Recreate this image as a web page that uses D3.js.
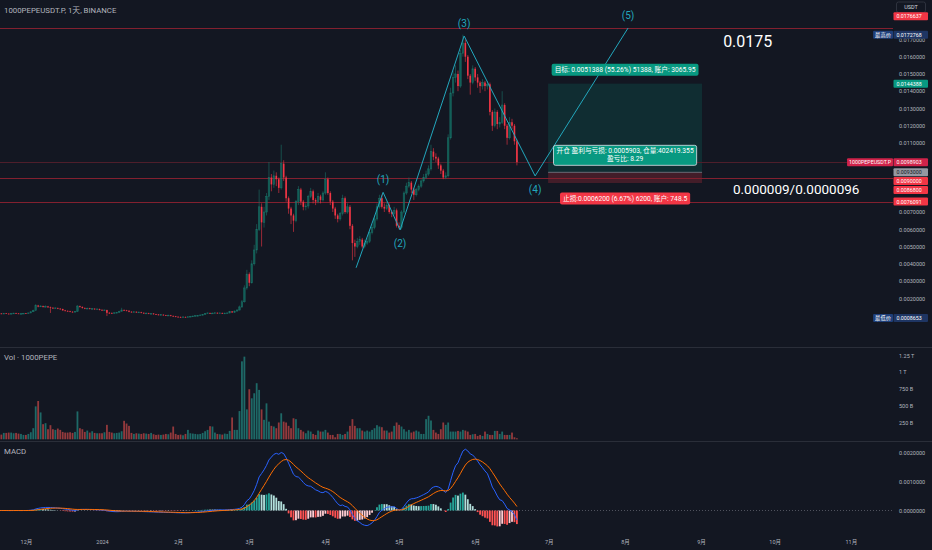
<!DOCTYPE html>
<html>
<head>
<meta charset="utf-8">
<script src="https://cdn.jsdelivr.net/npm/d3@7"></script>
<style>
html, body { margin: 0; background: #131722; }
svg { display: block; }
text { font-family: Roboto, "Noto Sans CJK SC", sans-serif; }
</style>
</head>
<body>
<svg id="chart" width="932" height="550"></svg>
<script>
// daily bars of 1000PEPEUSDT.P, prices in units of 0.001 USDT
const firstDay = "2023-11-20";
const firstOpen = 1.11;
const closes = [
  1.12,1.10,1.13,1.11,1.09,1.12,1.14,1.12,1.10,1.11,
  1.13,1.12,1.15,1.22,1.30,1.58,1.52,1.55,1.50,1.53,
  1.48,1.45,1.42,1.44,1.40,1.38,1.30,1.27,1.25,1.22,
  1.20,1.24,1.55,1.50,1.44,1.40,1.42,1.38,1.40,1.36,
  1.38,1.33,1.30,1.32,1.16,1.15,1.13,1.16,1.18,1.25,
  1.32,1.30,1.28,1.22,1.20,1.22,1.18,1.20,1.16,1.12,
  1.14,1.10,1.12,1.08,1.06,1.04,1.05,1.02,1.00,1.02,
  0.98,0.96,0.93,0.92,0.90,0.92,0.91,0.93,0.95,0.97,
  0.99,1.00,1.03,1.06,1.12,1.15,1.12,1.14,1.16,1.13,
  1.15,1.12,1.14,1.15,1.24,1.18,1.26,1.32,1.50,1.80,
  2.60,3.40,2.90,4.00,4.80,6.00,7.30,6.40,7.00,7.90,
  9.00,8.60,9.10,8.90,8.40,9.80,9.00,7.80,7.20,6.80,
  6.50,7.60,8.30,7.60,7.30,7.35,7.90,8.20,7.70,7.60,
  7.90,7.70,8.10,8.90,8.10,7.60,7.20,6.80,6.60,6.90,
  7.80,7.00,7.30,6.20,5.20,5.00,5.30,5.40,5.00,5.20,
  5.30,5.80,6.10,6.60,7.30,7.80,7.30,7.20,7.40,7.00,
  6.90,7.10,6.20,6.10,7.00,8.10,8.50,8.70,8.30,8.00,
  8.30,8.50,8.80,9.00,9.20,9.50,10.50,10.20,10.10,9.70,
  9.40,9.00,9.10,11.30,13.90,14.80,15.00,14.30,16.20,16.80,
  16.00,14.90,14.50,15.30,14.80,14.50,14.30,14.50,14.30,14.40,
  12.80,12.00,12.80,12.10,12.20,13.20,12.00,11.30,12.20,12.00,
  11.10,9.8903
];
const highs = [
  1.15,1.14,1.15,1.14,1.13,1.14,1.16,1.16,1.14,1.13,
  1.15,1.15,1.18,1.25,1.34,1.66,1.62,1.60,1.58,1.59,
  1.56,1.52,1.49,1.48,1.46,1.43,1.40,1.33,1.30,1.28,
  1.25,1.27,1.60,1.58,1.53,1.47,1.46,1.45,1.43,1.42,
  1.41,1.40,1.36,1.35,1.34,1.20,1.18,1.19,1.21,1.28,
  1.45,1.36,1.33,1.30,1.25,1.25,1.24,1.23,1.22,1.18,
  1.17,1.16,1.14,1.14,1.10,1.09,1.08,1.07,1.04,1.05,
  1.04,1.00,0.98,0.96,0.94,0.95,0.94,0.96,0.98,1.00,
  1.02,1.03,1.06,1.09,1.15,1.18,1.17,1.17,1.19,1.18,
  1.18,1.17,1.17,1.18,1.27,1.26,1.29,1.36,1.58,1.90,
  2.75,3.65,3.50,4.20,5.10,6.30,8.30,7.50,7.30,8.10,
  9.90,9.20,9.40,9.30,9.00,10.90,10.00,9.10,7.90,7.30,
  6.90,7.70,8.50,8.40,7.70,7.50,8.00,8.40,8.30,7.80,
  8.10,8.00,8.20,9.30,9.00,8.20,7.70,7.30,6.90,7.00,
  8.00,7.90,7.50,7.40,6.30,5.40,5.50,5.60,5.50,5.40,
  5.50,5.90,6.30,6.80,7.50,8.00,8.00,7.50,7.60,7.50,
  7.10,7.30,7.20,6.40,7.10,8.20,8.70,9.00,8.80,8.40,
  8.40,8.60,8.90,9.20,9.40,9.70,10.90,10.70,10.40,10.20,
  9.80,9.50,9.30,11.50,14.20,15.20,15.50,15.20,16.40,17.2768,
  17.00,16.10,15.00,15.50,15.40,15.00,14.60,14.70,14.60,14.60,
  14.50,12.90,13.00,12.90,12.50,14.00,13.30,12.10,12.50,12.40,
  12.10,11.20
];
const lows = [
  1.09,1.08,1.09,1.10,1.07,1.08,1.11,1.10,1.09,1.08,
  1.10,1.10,1.11,1.14,1.20,1.28,1.48,1.49,1.46,1.47,
  1.44,1.15,1.38,1.39,1.37,1.34,1.28,1.24,1.22,1.19,
  1.17,1.18,1.22,1.46,1.40,1.37,1.38,1.35,1.35,1.33,
  1.33,1.30,1.27,1.27,0.97,1.10,1.10,1.11,1.14,1.16,
  1.23,1.27,1.25,1.19,1.17,1.18,1.15,1.16,1.13,1.09,
  1.10,1.08,1.08,1.05,1.03,1.01,1.01,0.99,0.97,0.98,
  0.95,0.93,0.90,0.89,0.8653,0.88,0.88,0.89,0.91,0.93,
  0.95,0.97,0.98,1.01,1.04,1.10,1.09,1.10,1.12,1.10,
  1.11,1.09,1.10,1.11,1.13,1.16,1.16,1.24,1.30,1.45,
  1.75,2.50,2.70,2.85,3.90,4.60,5.90,5.00,6.10,6.80,
  7.70,8.20,8.40,8.50,8.10,8.30,8.80,7.60,6.90,6.30,
  5.85,6.40,7.40,7.40,7.10,7.10,7.20,7.80,7.50,7.40,
  7.50,7.50,7.60,8.00,8.00,7.40,7.00,6.60,6.40,6.50,
  6.80,6.90,6.90,6.00,4.20,4.40,4.90,5.10,4.90,4.90,
  5.10,5.20,5.70,6.00,6.50,7.20,7.20,7.00,7.10,6.90,
  6.70,6.80,6.10,6.00,6.00,6.90,8.00,8.40,8.10,7.70,
  7.90,8.20,8.40,8.70,8.90,9.10,9.40,10.00,9.90,9.50,
  9.20,8.90,8.90,9.00,11.20,13.70,14.50,14.00,14.20,16.00,
  15.70,14.70,13.80,14.40,14.60,14.20,13.90,14.10,14.00,14.10,
  12.60,11.70,11.90,11.80,11.90,12.10,11.80,10.90,11.20,11.80,
  10.90,9.70
];
// volume in billions
const volumes = [
  190,70,95,95,100,100,90,95,85,80,
  65,65,80,105,165,490,570,400,225,240,
  150,210,150,140,160,140,110,100,100,105,
  95,110,415,165,150,110,130,100,120,95,
  90,90,90,105,215,110,100,90,95,100,
  120,275,235,200,95,80,90,85,80,90,
  85,80,95,75,65,70,65,70,80,75,
  100,190,80,65,70,60,80,140,90,85,
  80,75,80,95,120,140,195,190,100,80,
  75,70,85,80,125,325,140,140,420,1160,
  1230,445,745,610,685,835,735,445,290,535,
  263,200,190,165,250,387,263,250,200,165,
  313,300,165,140,115,90,130,115,80,65,
  130,115,115,140,100,65,65,30,80,80,
  65,80,115,200,300,200,165,165,130,115,
  130,115,140,165,210,190,180,130,130,100,
  115,200,250,215,190,150,115,140,100,115,
  130,115,80,80,300,350,280,140,100,80,
  150,250,215,250,115,115,115,125,115,140,
  130,115,65,75,80,50,65,50,115,80,
  65,65,125,125,80,115,65,65,65,100,
  30,15
];

const monthTicks = ["2023-12-01","2024-01-01","2024-02-01","2024-03-01","2024-04-01","2024-05-01",
  "2024-06-01","2024-07-01","2024-08-01","2024-09-01","2024-10-01","2024-11-01"];
// 0.008 - 0.010 sit under the coloured price labels and are not shown
const priceTicks = [2,3,4,5,6,7,11,12,13,14,15,16,17];
const volTicks = [250,500,750,1000,1250];
const macdTicks = [0, 0.001, 0.002];

// Elliott wave drawing: [time, price, label]
const wavePoints = [
  ["2024-04-13T12:00", 3.77, ""],
  ["2024-04-24T12:00", 8.14, "(1)"],
  ["2024-05-01T10:00", 5.96, "(2)"],
  ["2024-05-27T12:00", 17.20, "(3)"],
  ["2024-06-25T10:00", 9.09, "(4)"],
  ["2024-08-02T07:00", 17.6637, "(5)"]
];
// long position tool
const posStart = "2024-06-30T17:00";
const posEnd = "2024-09-01T10:00";
const posEntry = 9.3;
const posTarget = 14.4388;
const posStop = 8.68;
const targetText = "目标: 0.0051388 (55.26%) 51388, 账户: 3065.95";
const entryText = ["开仓 盈利与亏损: 0.0005903, 仓量:402419.355", "盈亏比: 8.29"];
const stopText = "止损:0.0006200 (6.67%) 6200, 账户: 748.5";
// horizontal lines
const hLines = [17.6637, 9.0, 7.6091];
const lastPrice = 9.8903;
const highPrice = 17.2768;
const lowPrice = 0.8653;
// free text notes: [time, price, text, size]
const notes = [
  ["2024-09-10T00:00", 16.56, "0.0175", 16],
  ["2024-09-14T00:00", 8.04, "0.000009/0.0000096", 13.5]
];

const W = 932, plotR = 893;
const svg = d3.select("#chart");
const day0 = d3.utcParse("%Y-%m-%d")(firstDay);
const parseT = s => new Date(s.length > 10 ? s + "Z" : s + "T00:00Z");

const bars = closes.map((c, i) => {
  const o = i === 0 ? firstOpen : closes[i - 1];
  return { date: d3.utcDay.offset(day0, i), o, c, h: highs[i], l: lows[i], v: volumes[i], up: c >= o };
});

const x = d3.scaleUtc().domain([new Date(Date.UTC(2024, 0, 1)), new Date(Date.UTC(2024, 10, 1))]).range([102, 850.8]);
const y = d3.scaleLinear().domain([2, 16]).range([298.3, 56.7]);
const yv = d3.scaleLinear().domain([0, 1250]).range([439.3, 355.3]);
const ym = d3.scaleLinear().domain([0, 0.002]).range([510.5, 453.1]);

const defs = svg.append("defs");
defs.append("clipPath").attr("id", "clipMain").append("rect").attr("x", 0).attr("y", 0).attr("width", plotR).attr("height", 346);

const upFill = "rgba(8,153,129,0.3)", upLine = "#1b7268", dn = "#f23645";
const lineRed = "#82202f";

// pane separators
svg.selectAll("line.sep").data([347.5, 441.5]).enter().append("line")
  .attr("x1", 0).attr("x2", W).attr("y1", d => d).attr("y2", d => d)
  .attr("stroke", "#2a2e39").attr("stroke-width", 1);

const main = svg.append("g").attr("clip-path", "url(#clipMain)");

// position tool zones
const px0 = x(parseT(posStart)), px1 = x(parseT(posEnd));
main.append("rect").attr("x", px0).attr("width", px1 - px0)
  .attr("y", y(posTarget)).attr("height", y(posEntry) - y(posTarget))
  .attr("fill", "rgba(8,153,129,0.17)");
main.append("rect").attr("x", px0).attr("width", px1 - px0)
  .attr("y", y(posEntry)).attr("height", y(posStop) - y(posEntry))
  .attr("fill", "rgba(242,54,69,0.22)");
main.append("line").attr("x1", px0).attr("x2", px1).attr("y1", y(posEntry)).attr("y2", y(posEntry))
  .attr("stroke", "#787b86").attr("stroke-width", 0.8);

// horizontal lines
const snap = v => Math.round(v) + 0.5;
main.selectAll("line.h").data(hLines).enter().append("line")
  .attr("x1", 0).attr("x2", plotR).attr("y1", d => snap(y(d))).attr("y2", d => snap(y(d)))
  .attr("stroke", lineRed).attr("stroke-width", 1);
main.append("line").attr("x1", 0).attr("x2", plotR).attr("y1", snap(y(lastPrice))).attr("y2", snap(y(lastPrice)))
  .attr("stroke", "#4e1e2b").attr("stroke-width", 1);

// candles
const bw = 1.6;
const cg = main.append("g");
cg.selectAll("line.wick").data(bars).enter().append("line")
  .attr("x1", d => x(d.date)).attr("x2", d => x(d.date))
  .attr("y1", d => y(d.h)).attr("y2", d => y(d.l))
  .attr("stroke", d => d.up ? upLine : dn).attr("stroke-width", 0.6);
cg.selectAll("rect.body").data(bars).enter().append("rect")
  .attr("x", d => x(d.date) - bw / 2).attr("width", bw)
  .attr("y", d => y(Math.max(d.o, d.c)))
  .attr("height", d => Math.max(0.7, Math.abs(y(d.o) - y(d.c))))
  .attr("fill", d => d.up ? upFill : dn)
  .attr("stroke", d => d.up ? upLine : "none").attr("stroke-width", 0.5);

// elliott wave
const waveCol = "#22a7bd";
const wp = wavePoints.map(p => ({ px: x(parseT(p[0])), py: y(p[1]), label: p[2] }));
main.append("path").datum(wp)
  .attr("d", d3.line().x(d => d.px).y(d => d.py))
  .attr("fill", "none").attr("stroke", waveCol).attr("stroke-width", 1);
main.selectAll("text.wave").data(wp.filter(d => d.label)).enter().append("text")
  .attr("x", d => d.px).attr("y", (d, i) => i % 2 === 0 ? d.py - 9 : d.py + 17)
  .attr("text-anchor", "middle").attr("fill", waveCol).attr("font-size", 10)
  .text(d => d.label);

// position labels
function tag(g, lines, cx, cy, fill, border) {
  const grp = g.append("g");
  const lh = 8;
  const texts = lines.map((t, i) => grp.append("text")
    .attr("x", cx).attr("y", cy + (i - (lines.length - 1) / 2) * lh)
    .attr("text-anchor", "middle").attr("dominant-baseline", "central")
    .attr("fill", "#fff").attr("font-size", 6.7).text(t));
  const wMax = d3.max(texts, t => t.node().getComputedTextLength());
  const h = lines.length * lh + 4;
  grp.insert("rect", "text").attr("x", cx - wMax / 2 - 3).attr("y", cy - h / 2)
    .attr("width", wMax + 6).attr("height", h).attr("rx", 2)
    .attr("fill", fill).attr("stroke", border || "none").attr("stroke-width", 0.8);
}
const pcx = (px0 + px1) / 2;
tag(svg, [targetText], pcx, y(posTarget) - 14, "#089981");
tag(svg, entryText, pcx, y(posEntry) - 17, "#089981", "#e0e3eb");
tag(svg, [stopText], pcx, y(posStop) + 15.5, dn);

// free notes
svg.selectAll("text.note").data(notes).enter().append("text")
  .attr("x", d => x(parseT(d[0]))).attr("y", d => y(d[1]))
  .attr("fill", "#ffffff").attr("font-family", "'Open Sans', sans-serif")
  .attr("font-size", d => d[3]).text(d => d[2]);

// volume bars
const vg = svg.append("g");
vg.selectAll("rect").data(bars).enter().append("rect")
  .attr("x", d => x(d.date) - 0.9).attr("width", 1.8)
  .attr("y", d => yv(d.v)).attr("height", d => yv(0) - yv(d.v))
  .attr("fill", d => d.up ? "#26a69a" : "#ef5350").attr("fill-opacity", 0.58);

// MACD 12/26/9 from closes
function ema(vals, n) {
  const k = 2 / (n + 1);
  let prev;
  return vals.map((v, i) => (prev = i === 0 ? v : v * k + prev * (1 - k)));
}
const cl = closes.map(c => c / 1000);
const e12 = ema(cl, 12), e26 = ema(cl, 26);
const macd = e12.map((v, i) => v - e26[i]);
const signal = ema(macd, 9);
const hist = macd.map((v, i) => v - signal[i]);

svg.append("line").attr("x1", 0).attr("x2", plotR).attr("y1", ym(0)).attr("y2", ym(0))
  .attr("stroke", "#787b86").attr("stroke-width", 0.6).attr("stroke-dasharray", "1,2");
svg.append("g").selectAll("rect").data(bars).enter().append("rect")
  .attr("x", d => x(d.date) - 0.9).attr("width", 1.8)
  .attr("y", (d, i) => Math.min(ym(0), ym(hist[i])))
  .attr("height", (d, i) => Math.abs(ym(hist[i]) - ym(0)))
  .attr("fill", (d, i) => {
    const h = hist[i], p = i > 0 ? hist[i - 1] : h;
    if (h >= 0) return h > p ? "#26a69a" : "#b2dfdb";
    return h < p ? "#ff5252" : "#ffcdd2";
  });
const mline = arr => d3.line().x((d, i) => x(bars[i].date)).y(d => ym(d))(arr);
svg.append("path").attr("d", mline(macd)).attr("fill", "none").attr("stroke", "#2962ff").attr("stroke-width", 1);
svg.append("path").attr("d", mline(signal)).attr("fill", "none").attr("stroke", "#ff6d00").attr("stroke-width", 1);

// axes
function styleAxis(g) {
  g.select(".domain").remove();
  g.selectAll(".tick line").remove();
  g.selectAll("text").attr("fill", "#b2b5be").attr("font-size", 5.5).attr("font-family", "Roboto, sans-serif");
}
svg.append("g").attr("transform", "translate(897,0)")
  .call(d3.axisRight(y).tickValues(priceTicks).tickSize(0).tickPadding(2).tickFormat(d => (d / 1000).toFixed(7)))
  .call(styleAxis);
svg.append("g").attr("transform", "translate(897,0)")
  .call(d3.axisRight(yv).tickValues(volTicks).tickSize(0).tickPadding(2)
    .tickFormat(d => d >= 1000 ? (d / 1000) + " T" : d + " B"))
  .call(styleAxis);
svg.append("g").attr("transform", "translate(897,0)")
  .call(d3.axisRight(ym).tickValues(macdTicks).tickSize(0).tickPadding(2).tickFormat(d => d.toFixed(7)))
  .call(styleAxis);
svg.append("g").attr("transform", "translate(0,538.5)")
  .call(d3.axisBottom(x).tickValues(monthTicks.map(parseT)).tickSize(0).tickPadding(2)
    .tickFormat(d => d.getUTCMonth() === 0 ? String(d.getUTCFullYear()) : (d.getUTCMonth() + 1) + "月"))
  .call(styleAxis);

// currency box
svg.append("rect").attr("x", 896.5).attr("y", 2).attr("width", 29).attr("height", 10.5).attr("rx", 2)
  .attr("fill", "#131722").attr("stroke", "#363a45").attr("stroke-width", 0.8);
svg.append("text").attr("x", 911).attr("y", 7.4).attr("text-anchor", "middle").attr("dominant-baseline", "central")
  .attr("fill", "#d1d4dc").attr("font-size", 5.5).text("USDT");

// price scale labels
function priceLabel(cy, text, fill, color, prefix, prefixFill) {
  const g = svg.append("g");
  g.append("rect").attr("x", 893.5).attr("y", cy - 4).attr("width", 34.5).attr("height", 8)
    .attr("rx", 1).attr("fill", fill);
  g.append("text").attr("x", 896.5).attr("y", cy).attr("dominant-baseline", "central")
    .attr("fill", color).attr("font-size", 5.3).text(text);
  if (prefix) {
    const t = g.append("text").attr("x", 891).attr("y", cy).attr("dominant-baseline", "central")
      .attr("text-anchor", "end").attr("fill", "#fff").attr("font-size", 5.3).text(prefix);
    const tw = t.node().getComputedTextLength();
    g.insert("rect", "text:last-child").attr("x", 889 - tw).attr("y", cy - 4)
      .attr("width", tw + 4).attr("height", 8).attr("rx", 1).attr("fill", prefixFill);
  }
}
const fmt = v => (v / 1000).toFixed(7);
// stacked labels near entry / stop lines are pushed down so they do not overlap
const stack = [[posEntry, "#9598a1", "#131722"], [hLines[1], dn, "#fff"], [posStop, dn, "#fff"]];
let lastY = -Infinity;
const stackY = stack.map(s => { const yy = Math.max(y(s[0]), lastY + 8.8); lastY = yy; return yy; });
const highY = y(highPrice);
priceLabel(highY, fmt(highPrice), "#1e3563", "#fff", "最高价", "#1e3f7a");
priceLabel(Math.min(y(hLines[0]), highY - 18.5), fmt(hLines[0]), dn, "#fff");
priceLabel(y(posTarget), fmt(posTarget), "#089981", "#fff");
priceLabel(Math.min(y(lastPrice), stackY[0] - 9.8), fmt(lastPrice), "#d0234a", "#fff", "1000PEPEUSDT.P", "#d0234a");
stack.forEach((s, i) => priceLabel(stackY[i], fmt(s[0]), s[1], s[2]));
priceLabel(y(hLines[2]), fmt(hLines[2]), dn, "#fff");
priceLabel(y(lowPrice), fmt(lowPrice), "#1e3563", "#fff", "最低价", "#1e3f7a");

// pane titles
const mono = "'Liberation Mono', 'DejaVu Sans Mono', monospace";
svg.append("text").attr("x", 4).attr("y", 13).attr("fill", "#b2b5be").attr("font-size", 7.8)
  .attr("font-family", mono).text("1000PEPEUSDT.P, 1天, BINANCE");
svg.append("text").attr("x", 4).attr("y", 360).attr("fill", "#b2b5be").attr("font-size", 7.8)
  .attr("font-family", mono).text("Vol · 1000PEPE");
svg.append("text").attr("x", 4).attr("y", 454).attr("fill", "#b2b5be").attr("font-size", 7.8)
  .attr("font-family", mono).text("MACD");
</script>
</body>
</html>
